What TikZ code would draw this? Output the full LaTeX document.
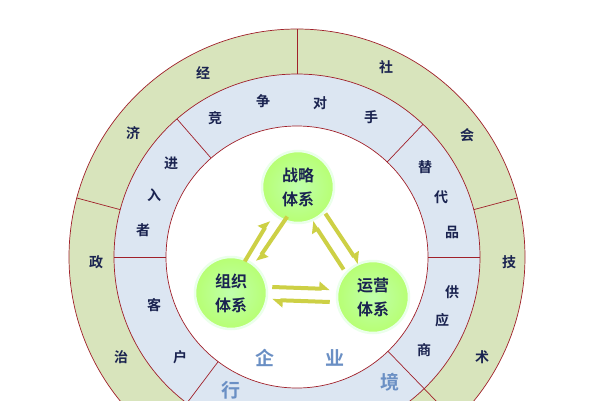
\documentclass[tikz,border=0pt]{standalone}
\usepackage{fontspec}
\newfontfamily\cjk{Noto Sans CJK SC Bold}
\usetikzlibrary{arrows.meta,shadows,calc}
\definecolor{ringg}{HTML}{D8E4BC}
\definecolor{ringb}{HTML}{DCE6F2}
\definecolor{lred}{HTML}{A0202A}
\definecolor{txt}{HTML}{1A2350}
\definecolor{soft}{HTML}{6A8FC4}
\definecolor{arr}{HTML}{CDD045}
\tikzset{
 rt/.style={font=\cjk\fontsize{14}{14}\selectfont, text=txt, inner sep=0pt},
 bt/.style={font=\cjk\fontsize{19}{19}\selectfont, text=soft, inner sep=0pt},
 ball/.style={circle, minimum size=72pt, inner sep=0pt, draw=green!8!white, line width=2.5pt,
   inner color=green!25!white!90!lime, outer color=green!35!lime!55!white, text=txt,
   font=\cjk\fontsize{16}{24}\selectfont, align=center},
 dv/.style={lred, line width=0.7pt},
 ha/.style={arr, line width=4pt, -{Triangle[harpoon,length=9pt,width=14pt]}}
}
\begin{document}
\begin{tikzpicture}[x=1pt,y=-1pt]
\useasboundingbox (0,0) rectangle (600,400);
\clip (0,0) rectangle (600,400);
\coordinate (c) at (297,257);
\fill[white] (0,0) rectangle (600,400);
\draw[dv, fill=ringg] (c) circle[radius=228];
\draw[dv, fill=ringb] (c) circle[radius=183];
\draw[dv, fill=white] (c) circle[radius=131];
% dividers (angles negated because y points down)
\foreach \a in {-90,-165,-15} \draw[dv] ($(c)+(\a:183)$) -- ($(c)+(\a:228)$);
\foreach \a in {-131,-46.5,127} \draw[dv] ($(c)+(\a:131)$) -- ($(c)+(\a:183)$);
\draw[dv] ($(c)+(46:131)$) -- ($(c)+(46:228)$);
\draw[dv] ($(c)+(0:131)$) -- ($(c)+(0:183)$);
\draw[dv] ($(c)+(180:131)$) -- ($(c)+(180:183)$);
% outer ring text
\node[rt] (t1) at (203,73) {经};
\node[rt] (t2) at (386,67) {社};
\node[rt] (t3) at (133,133) {济};
\node[rt] (t4) at (467,135) {会};
\node[rt] (t5) at (96,262) {政};
\node[rt] (t6) at (509,262) {技};
\node[rt] (t7) at (121,357) {治};
\node[rt] (t8) at (482,357) {术};
% middle ring
\node[rt] (m1) at (215,118) {竞};
\node[rt] (m2) at (263,101) {争};
\node[rt] (m3) at (320,103) {对};
\node[rt] (m4) at (371,117) {手};
\node[rt] (m5) at (171,163) {进};
\node[rt] (m6) at (154,195) {入};
\node[rt] (m7) at (143,230) {者};
\node[rt] (m8) at (425,167) {替};
\node[rt] (m9) at (441,197) {代};
\node[rt] (m10) at (452,232) {品};
\node[rt] (m11) at (154,305) {客};
\node[rt] (m12) at (180,357) {户};
\node[rt] (m13) at (452,292) {供};
\node[rt] (m14) at (442,320) {应};
\node[rt] (m15) at (424,350) {商};
\node[bt] (b1) at (265,358) {企};
\node[bt] (b2) at (335,358) {业};
\node[bt] (b3) at (231,390) {行};
\node[bt] (b4) at (390,382) {境};
% balls
\node[ball] (s) at (298,187) {战略\\体系};
\node[ball] (o) at (231,293) {组织\\体系};
\node[ball] (y) at (373,297) {运营\\体系};
% arrows
\draw[ha] ([shift={(-6,0)}]o.58) -- ([shift={(-9,2)}]s.238);
\draw[ha] ([shift={(9,-2)}]s.238) -- ([shift={(6,0)}]o.58);
\draw[ha] ([shift={(6,-4)}]s.-55) -- ([shift={(7,-3)}]y.125);
\draw[ha] ([shift={(-8,3)}]y.125) -- ([shift={(-7,4)}]s.-55);
\draw[ha] ([shift={(4,-6)}]o.east) -- ([shift={(-6,-8)}]y.west);
\draw[ha] ([shift={(-6,5)}]y.west) -- ([shift={(4,7)}]o.east);
\end{tikzpicture}
\end{document}
